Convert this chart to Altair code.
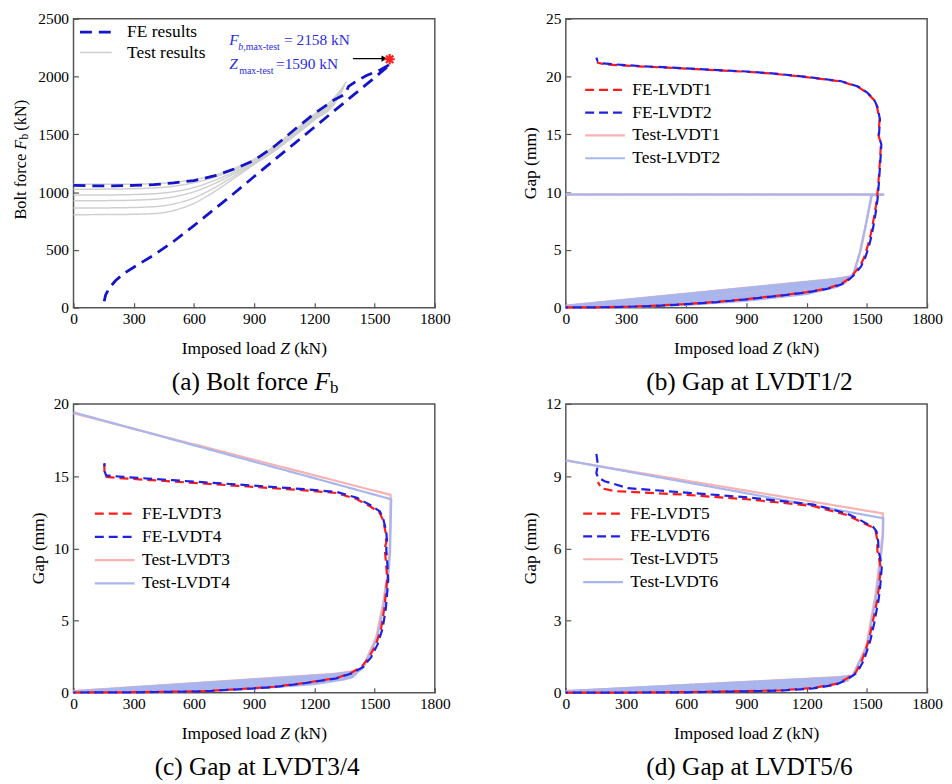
import altair as alt
import pandas as pd

SERIF = "Liberation Serif"
W, H = 364, 291
X_TICKS = [0, 300, 600, 900, 1200, 1500, 1800]

# ---------------- (a) Bolt force ----------------
a_fe_z = [0, 100, 200, 300, 400, 500, 600, 700, 800, 900, 1000, 1100, 1200, 1300, 1350, 1362, 1370, 1400, 1460, 1530, 1580,
          1500, 1400, 1300, 1200, 1100, 1000, 900, 800, 700, 600, 500, 400, 300, 250, 210, 180, 160, 153]
a_fe_f = [1058, 1055, 1055, 1058, 1065, 1080, 1100, 1140, 1200, 1275, 1395, 1540, 1680, 1800, 1845, 1880, 1915, 1950, 2010, 2060, 2110,
          1990, 1848, 1705, 1562, 1420, 1278, 1135, 990, 850, 710, 575, 455, 350, 295, 235, 175, 110, 55]
a_test_z = [
    [0, 200, 400, 500, 600, 700, 800, 900, 1000, 1100, 1200, 1300, 1360],
    [0, 200, 400, 500, 600, 700, 800, 900, 1000, 1100, 1200, 1300, 1350],
    [0, 200, 400, 500, 600, 700, 800, 900, 1000, 1100, 1200, 1300, 1345],
    [0, 200, 400, 500, 600, 700, 800, 900, 1000, 1100, 1200, 1300, 1340],
    [0, 200, 400, 500, 600, 700, 800, 900, 1000, 1100, 1200, 1300, 1335],
    [0, 200, 400, 500, 600, 700, 800, 900, 1000, 1100, 1200, 1300, 1330]]
a_test_f = [
    [1068, 1068, 1073, 1085, 1108, 1145, 1205, 1285, 1400, 1535, 1675, 1820, 1955],
    [1025, 1027, 1036, 1052, 1082, 1128, 1192, 1275, 1390, 1520, 1660, 1800, 1920],
    [974, 976, 986, 1004, 1040, 1100, 1175, 1265, 1380, 1510, 1650, 1790, 1900],
    [925, 927, 938, 960, 1003, 1072, 1160, 1255, 1370, 1500, 1640, 1780, 1880],
    [862, 864, 874, 898, 950, 1036, 1140, 1245, 1360, 1490, 1630, 1770, 1865],
    [805, 806, 814, 842, 903, 1002, 1120, 1240, 1355, 1485, 1625, 1765, 1855]]
a_star_z, a_star_f = [1575], [2150]
a_arrow_z, a_arrow_z2, a_arrow_f = [1392], [1548], [2156]

# ---------------- (b) LVDT1/2 ----------------
b_fe1_z = [0, 150, 300, 450, 600, 750, 900, 1050, 1200, 1300, 1370, 1410, 1435, 1465, 1485, 1505, 1520, 1534, 1545, 1552,
           1558, 1564, 1570, 1558, 1563, 1550, 1534, 1501, 1452, 1369, 1200, 1041, 900, 711, 500, 382, 250, 184, 160, 155]
b_fe1_g = [0.02, 0.03, 0.08, 0.18, 0.32, 0.5, 0.74, 1.02, 1.34, 1.65, 2.05, 2.5, 2.95, 3.6, 4.3, 5.4, 6.4, 7.7, 8.8, 9.8,
           11.0, 12.5, 14.2, 14.9, 16.3, 17.4, 18.0, 18.6, 19.15, 19.58, 19.95, 20.24, 20.42, 20.58, 20.78, 20.87, 21.0, 21.1, 21.2, 21.25]
b_fe2_z = [0, 150, 300, 450, 600, 750, 900, 1050, 1200, 1300, 1372, 1412, 1440, 1470, 1490, 1510, 1524, 1538, 1548, 1555,
           1560, 1566, 1572, 1560, 1565, 1552, 1536, 1503, 1455, 1372, 1200, 1041, 900, 711, 500, 382, 250, 184, 158, 152]
b_fe2_g = [0.02, 0.03, 0.07, 0.16, 0.3, 0.48, 0.72, 1.0, 1.32, 1.62, 2.0, 2.45, 2.9, 3.55, 4.25, 5.3, 6.3, 7.6, 8.7, 9.7,
           10.9, 12.4, 14.1, 14.9, 16.3, 17.4, 18.0, 18.6, 19.15, 19.6, 19.97, 20.26, 20.44, 20.6, 20.8, 20.9, 21.05, 21.15, 21.35, 21.65]
b_t1_z = [0, 300, 600, 900, 1200, 1350, 1400, 0, 300, 600, 900, 1200, 1350, 1405, 0, 300, 600, 900, 1200, 1350, 1410, 0,
          300, 600, 900, 1200, 1350, 1415, 0, 300, 600, 900, 1200, 1420, 1435, 1470, 1500, 1526, 1587, 0]
b_t1_g = [0, 0.08, 0.3, 0.7, 1.3, 1.9, 2.3, 0.06, 0.18, 0.45, 0.9, 1.5, 2.1, 2.42, 0.1, 0.28, 0.62, 1.08, 1.7, 2.25, 2.52, 0.14,
          0.38, 0.78, 1.28, 1.9, 2.42, 2.62, 0.18, 0.5, 0.95, 1.48, 2.1, 2.72, 2.95, 5.0, 7.6, 9.75, 9.8, 9.8]
b_t2_z = [0, 300, 600, 900, 1200, 1350, 1398, 0, 300, 600, 900, 1200, 1350, 1403, 0, 300, 600, 900, 1200, 1350, 1408, 0,
          300, 600, 900, 1200, 1350, 1413, 0, 300, 600, 900, 1200, 1418, 1432, 1465, 1497, 1522, 1585, 0]
b_t2_g = [0, 0.05, 0.24, 0.6, 1.18, 1.8, 2.22, 0.04, 0.13, 0.38, 0.8, 1.4, 2.0, 2.36, 0.08, 0.22, 0.54, 0.98, 1.6, 2.16, 2.47, 0.12,
          0.32, 0.7, 1.18, 1.8, 2.35, 2.58, 0.16, 0.44, 0.88, 1.4, 2.02, 2.68, 2.9, 4.8, 7.4, 9.72, 9.78, 9.78]

# ---------------- (c) LVDT3/4 ----------------
c_fe3_z = [0, 300, 650, 850, 1000, 1150, 1310, 1380, 1435, 1475, 1508, 1533, 1549, 1557, 1563, 1555, 1550, 1558, 1555, 1541,
           1525, 1475, 1410, 1311, 1148, 820, 492, 246, 160, 155, 153]
c_fe3_g = [0.02, 0.04, 0.11, 0.28, 0.42, 0.68, 1.02, 1.36, 1.8, 2.5, 3.4, 4.5, 5.9, 7.0, 7.9, 9.3, 10.0, 10.4, 11.1, 12.0,
           12.47, 12.93, 13.42, 13.83, 14.02, 14.33, 14.63, 14.85, 14.95, 15.1, 15.85]
c_fe4_z = [0, 300, 650, 850, 1000, 1150, 1310, 1385, 1442, 1482, 1515, 1540, 1556, 1563, 1568, 1562, 1558, 1562, 1558, 1543,
           1527, 1478, 1412, 1313, 1150, 822, 494, 248, 162, 156, 154]
c_fe4_g = [0.02, 0.03, 0.1, 0.26, 0.4, 0.66, 1.0, 1.34, 1.78, 2.45, 3.35, 4.45, 5.85, 6.95, 7.85, 9.25, 9.95, 10.45, 11.2, 12.05,
           12.55, 13.0, 13.5, 13.9, 14.1, 14.42, 14.72, 14.95, 15.05, 15.3, 15.9]
c_t3_z = [0, 300, 600, 900, 1200, 1350, 1400, 0, 300, 600, 900, 1200, 1350, 1410, 0, 300, 600, 900, 1200, 1350, 1418, 0,
          300, 600, 900, 1200, 1425, 1443, 1508, 1541, 1566, 1574, 1577, 1580, 0]
c_t3_g = [0, 0.04, 0.14, 0.32, 0.65, 0.98, 1.18, 0.04, 0.09, 0.22, 0.46, 0.82, 1.12, 1.3, 0.08, 0.15, 0.32, 0.6, 0.98, 1.28, 1.42, 0.12,
          0.22, 0.43, 0.74, 1.13, 1.55, 1.81, 3.85, 6.1, 8.4, 9.75, 11.6, 13.7, 19.35]
c_t4_z = [0, 300, 600, 900, 1200, 1350, 1398, 0, 300, 600, 900, 1200, 1350, 1408, 0, 300, 600, 900, 1200, 1350, 1415, 0,
          300, 600, 900, 1200, 1422, 1446, 1512, 1545, 1569, 1577, 1580, 1583, 0]
c_t4_g = [0, 0.03, 0.12, 0.29, 0.6, 0.93, 1.12, 0.03, 0.08, 0.2, 0.43, 0.78, 1.08, 1.26, 0.07, 0.13, 0.3, 0.57, 0.95, 1.25, 1.38, 0.1,
          0.2, 0.41, 0.72, 1.1, 1.5, 1.78, 3.8, 6.0, 8.3, 9.7, 11.5, 13.4, 19.42]

# ---------------- (d) LVDT5/6 ----------------
d_fe5_z = [0, 300, 600, 900, 1067, 1231, 1347, 1396, 1446, 1478, 1511, 1528, 1552, 1560, 1569, 1560, 1552, 1552, 1544, 1528,
           1446, 1396, 1231, 901, 572, 242, 176, 160]
d_fe5_g = [0.01, 0.01, 0.03, 0.07, 0.1, 0.2, 0.37, 0.57, 0.86, 1.4, 2.23, 2.9, 3.87, 4.4, 5.2, 5.6, 5.9, 6.3, 6.7, 6.87,
           7.2, 7.4, 7.76, 8.04, 8.24, 8.38, 8.5, 8.76]
d_fe6_z = [0, 300, 600, 900, 1067, 1231, 1347, 1400, 1452, 1486, 1518, 1536, 1558, 1566, 1574, 1566, 1558, 1556, 1548, 1532,
           1450, 1400, 1235, 905, 576, 310, 193, 160, 152, 160, 155, 152]
d_fe6_g = [0.01, 0.01, 0.02, 0.06, 0.09, 0.18, 0.34, 0.55, 0.84, 1.38, 2.2, 2.88, 3.85, 4.4, 5.2, 5.6, 5.9, 6.3, 6.7, 6.88,
           7.25, 7.45, 7.82, 8.12, 8.33, 8.5, 8.79, 8.95, 9.13, 9.47, 9.75, 9.94]
d_t5_z = [0, 300, 600, 900, 1200, 1350, 1410, 0, 300, 600, 900, 1200, 1350, 1415, 0, 300, 600, 900, 1200, 1422, 0,
          300, 600, 900, 1200, 1430, 1497, 1544, 1569, 1578, 1580, 0]
d_t5_g = [0, 0.02, 0.05, 0.12, 0.27, 0.43, 0.55, 0.03, 0.05, 0.1, 0.2, 0.36, 0.52, 0.62, 0.05, 0.08, 0.16, 0.28, 0.45, 0.68, 0.07,
          0.11, 0.21, 0.35, 0.52, 0.72, 1.95, 4.14, 5.9, 6.6, 7.45, 9.65]
d_t6_z = [0, 300, 600, 900, 1200, 1350, 1408, 0, 300, 600, 900, 1200, 1350, 1413, 0, 300, 600, 900, 1200, 1420, 0,
          300, 600, 900, 1200, 1428, 1500, 1548, 1572, 1580, 1582, 0]
d_t6_g = [0, 0.02, 0.04, 0.1, 0.24, 0.4, 0.52, 0.03, 0.04, 0.09, 0.18, 0.33, 0.49, 0.6, 0.05, 0.07, 0.14, 0.26, 0.42, 0.66, 0.07,
          0.1, 0.2, 0.33, 0.5, 0.7, 1.9, 4.1, 5.85, 6.55, 7.25, 9.66]

# ---------------- styles ----------------
RED, BLUE, LRED, LBLUE = "#ff1a1a", "#2020e0", "#f8b2b2", "#a9b6ee"
FE_DASH, SOLID = [9, 5], [1, 0]
WIDE_STROKE = "M-2,0H2"


def long_df(items):
    rows = []
    for name, seg, zs, vs in items:
        for i, (z, v) in enumerate(zip(zs, vs)):
            rows.append({"series": name, "seg": seg, "i": i, "Z": z, "v": v})
    return pd.DataFrame(rows)


def make_axes(yvals):
    common = dict(title=None, labelFont=SERIF, labelFontSize=15.5, labelColor="black", tickSize=5, format="d",
                  tickColor="#555555", tickWidth=1.2, offset=-5, domain=False, grid=False, labelOverlap=False)
    xa = alt.Axis(values=X_TICKS, labelFlush=False, labelPadding=4, **common)
    ya = alt.Axis(values=yvals, labelPadding=5, **common)
    return xa, ya


def enc(ydom, yvals, names, colors, dashes, widths, legend):
    xa, ya = make_axes(yvals)
    return dict(
        x=alt.X("Z:Q", scale=alt.Scale(domain=[0, 1800], nice=False, zero=False), axis=xa),
        y=alt.Y("v:Q", scale=alt.Scale(domain=ydom, nice=False, zero=False), axis=ya),
        color=alt.Color("series:N", scale=alt.Scale(domain=names, range=colors), legend=legend),
        strokeDash=alt.StrokeDash("series:N", scale=alt.Scale(domain=names, range=dashes), legend=legend),
        strokeWidth=alt.StrokeWidth("series:N", scale=alt.Scale(domain=names, range=widths), legend=legend),
        detail="seg:N",
        order="i:Q",
    )


def legend(sym_left, ly, sym, rp, label_left):
    # symbol path spans 2*sqrt(size); its layout column is sqrt(size) wide
    lx = sym_left + sym / 4.0
    off = label_left - sym_left - 0.75 * sym
    return alt.Legend(title=None, orient="none", legendX=lx, legendY=ly, labelFont=SERIF, labelFontSize=17.5,
                      labelColor="black", symbolSize=(sym / 2.0) ** 2, symbolType=WIDE_STROKE, labelOffset=off,
                      rowPadding=rp, padding=0, labelLimit=300, symbolOpacity=1)


def txt(s, x, y, size, style="normal", align="left", angle=0, color="black"):
    props = dict(text=s, fontSize=size, font=SERIF, fontStyle=style, align=align, baseline="middle", color=color)
    if angle:
        props["angle"] = angle
    return alt.Chart(pd.DataFrame({"k": [0]})).mark_text(**props).encode(x=alt.value(x), y=alt.value(y))


def x_title():
    sx = W / 2 - 73
    y = H + 42
    return [txt("Imposed load", sx, y, 17.5),
            txt("Z", sx + 99.2, y, 17.5, style="italic"),
            txt("(kN)", sx + 113.3, y, 17.5)]


def gap_title():
    return [txt("Gap (mm)", -35, H / 2, 17.5, align="center", angle=270)]


CAP_Y = H + 75


def caption(s, dx=0):
    return [txt(s, W / 2 + dx, CAP_Y, 25.5, align="center")]


# ---------------- panel (a) ----------------
a_names = ["FE results", "Test results"]
a_enc = enc([0, 2500], [0, 500, 1000, 1500, 2000, 2500], a_names, ["#1414c8", "#cfcfcf"],
            [[12, 7], SOLID], [2.8, 1.5], legend(5, 4, 32, 3, 51))
a_test = alt.Chart(long_df([("Test results", f"t{k}", z, f) for k, (z, f) in enumerate(zip(a_test_z, a_test_f))])
                   ).mark_line(interpolate="monotone").encode(**a_enc)
a_fe = alt.Chart(long_df([("FE results", "fe", a_fe_z, a_fe_f)])).mark_line().encode(**a_enc)
a_star = alt.Chart(pd.DataFrame({"Z": a_star_z, "v": a_star_f})).mark_point(
    shape="M-1,0L1,0M0,-1L0,1M-0.7,-0.7L0.7,0.7M-0.7,0.7L0.7,-0.7", filled=False, color="#ff2020",
    strokeWidth=2.2, size=110, opacity=1).encode(x="Z:Q", y="v:Q")
a_rule = alt.Chart(pd.DataFrame({"Z": a_arrow_z, "Z2": a_arrow_z2, "v": a_arrow_f})).mark_rule(
    color="black", strokeWidth=1.2).encode(x="Z:Q", x2="Z2:Q", y="v:Q")
a_head = alt.Chart(pd.DataFrame({"Z": a_arrow_z2, "v": a_arrow_f})).mark_point(
    shape="triangle-right", filled=True, color="black", size=40, opacity=1).encode(x="Z:Q", y="v:Q")
ANN = "#2b2be6"
a_ann = [txt("F", 157, 21, 15.5, style="italic", color=ANN),
         txt("b", 166, 28, 10, style="italic", color=ANN),
         txt(",max-test", 171, 28, 10, color=ANN),
         txt("= 2158 kN", 212, 21, 15.5, color=ANN),
         txt("Z", 157, 46, 15.5, style="italic", color=ANN),
         txt("max-test", 167, 53, 10, color=ANN),
         txt("=1590 kN", 204, 46, 15.5, color=ANN)]
y0 = H / 2 - 4 + 60.8
a_ytitle = [txt("Bolt force", -53, y0, 16.5, angle=270),
            txt("F", -53, y0 - 70.5, 16.5, style="italic", angle=270),
            txt("b", -49, y0 - 80.8, 11.5, angle=270),
            txt("(kN)", -53, y0 - 89.6, 16.5, angle=270)]
cx = W / 2 + 1 - 84
a_cap = [txt("(a) Bolt force", cx, CAP_Y, 25.5),
         txt("F", cx + 143.8, CAP_Y, 25.5, style="italic"),
         txt("b", cx + 159.4, CAP_Y + 6, 17)]
pa = alt.layer(a_test, a_fe, a_rule, a_head, a_star, *a_ann, *a_ytitle, *x_title(), *a_cap).properties(width=W, height=H)


# ---------------- panels (b)-(d) ----------------
def gap_panel(names, ydom, yvals, fe1, fe2, t1, t2, lg, cap):
    e = enc(ydom, yvals, names, [RED, BLUE, LRED, LBLUE], [FE_DASH, FE_DASH, SOLID, SOLID], [2.2, 2.2, 0.6, 0.6], lg)
    lt1 = alt.Chart(long_df([(names[2], "t", t1[0], t1[1])])).mark_line().encode(**e)
    lt2 = alt.Chart(long_df([(names[3], "t", t2[0], t2[1])])).mark_line().encode(**e)
    lf1 = alt.Chart(long_df([(names[0], "f", fe1[0], fe1[1])])).mark_line().encode(**e)
    lf2 = alt.Chart(long_df([(names[1], "f", fe2[0], fe2[1])])).mark_line(strokeDashOffset=7).encode(**e)
    return alt.layer(lt1, lt2, lf1, lf2, *gap_title(), *x_title(), *caption(cap, 3)).properties(width=W, height=H)


pb = gap_panel(["FE-LVDT1", "FE-LVDT2", "Test-LVDT1", "Test-LVDT2"], [0, 25], [0, 5, 10, 15, 20, 25],
               (b_fe1_z, b_fe1_g), (b_fe2_z, b_fe2_g), (b_t1_z, b_t1_g), (b_t2_z, b_t2_g),
               legend(18, 60, 40, 3, 64), "(b) Gap at LVDT1/2")
pc = gap_panel(["FE-LVDT3", "FE-LVDT4", "Test-LVDT3", "Test-LVDT4"], [0, 20], [0, 5, 10, 15, 20],
               (c_fe3_z, c_fe3_g), (c_fe4_z, c_fe4_g), (c_t3_z, c_t3_g), (c_t4_z, c_t4_g),
               legend(20, 99, 40, 3.4, 66), "(c) Gap at LVDT3/4")
pd_ = gap_panel(["FE-LVDT5", "FE-LVDT6", "Test-LVDT5", "Test-LVDT6"], [0, 12], [0, 3, 6, 9, 12],
                (d_fe5_z, d_fe5_g), (d_fe6_z, d_fe6_g), (d_t5_z, d_t5_g), (d_t6_z, d_t6_g),
                legend(16, 99, 40, 3, 62), "(d) Gap at LVDT5/6")

chart = alt.concat(pa, pb, pc, pd_, columns=2, spacing={"row": 97, "column": 132}, bounds="flush").resolve_scale(
    x="independent", y="independent", color="independent", strokeDash="independent", strokeWidth="independent"
).resolve_legend(
    color="independent", strokeDash="independent", strokeWidth="independent"
).properties(
    padding={"left": 4, "top": 0, "right": 0, "bottom": 0}
).configure(font=SERIF).configure_axis(labelFont=SERIF, titleFont=SERIF).configure_legend(
    labelFont=SERIF
).configure_view(stroke="#555555", strokeWidth=1.5)

chart.save("out.html", embed_options={"renderer": "svg", "actions": False})
